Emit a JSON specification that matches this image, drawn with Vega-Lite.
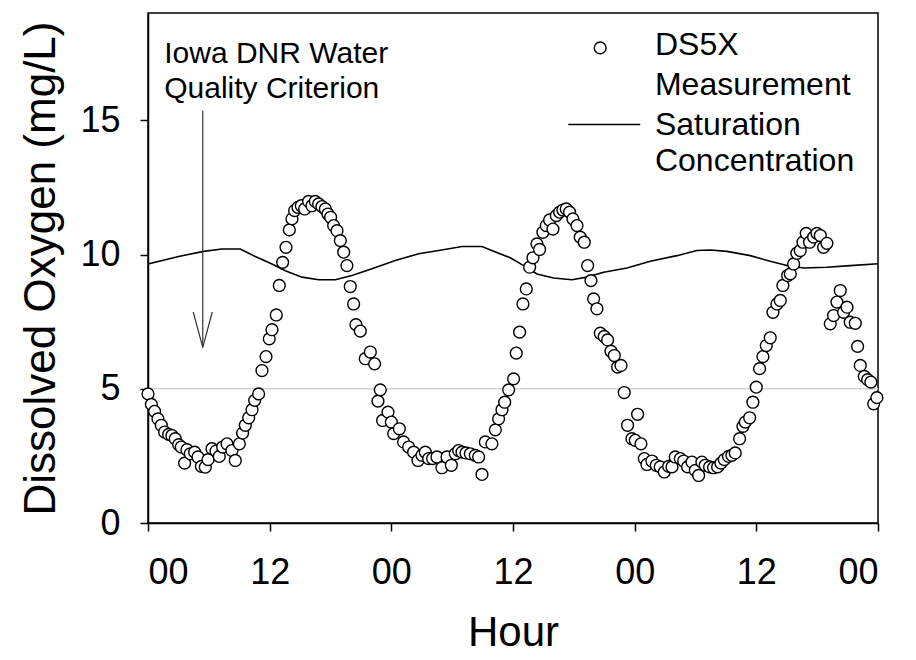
{
  "$schema": "https://vega.github.io/schema/vega-lite/v6.json",
  "width": 730,
  "height": 510,
  "autosize": {"type": "none"},
  "padding": {"left": 148, "top": 13, "right": 38, "bottom": 137},
  "background": "white",
  "config": {
    "font": "Liberation Sans",
    "view": {"stroke": "black", "strokeWidth": 1.5},
    "axis": {
      "domainColor": "black", "tickColor": "black", "labelColor": "black", "titleColor": "black",
      "grid": false, "labelFont": "Liberation Sans", "titleFont": "Liberation Sans",
      "labelFontSize": 36, "titleFontSize": 42, "titleFontWeight": "normal",
      "tickSize": 8, "domainWidth": 1.5, "tickWidth": 1.5
    }
  },
  "datasets": {
    "do": [
      {"hour":0.0,"value":4.81},{"hour":0.33,"value":4.42},{"hour":0.65,"value":4.16},{"hour":0.98,"value":3.88},{"hour":1.31,"value":3.64},{"hour":1.64,"value":3.39},{"hour":2.04,"value":3.30},{"hour":2.36,"value":3.26},{"hour":2.69,"value":3.14},{"hour":3.02,"value":2.92},{"hour":3.28,"value":2.83},{"hour":3.61,"value":2.23},{"hour":3.84,"value":2.73},{"hour":4.17,"value":2.58},{"hour":4.60,"value":2.64},{"hour":4.93,"value":2.46},{"hour":5.26,"value":2.11},{"hour":5.65,"value":2.08},{"hour":5.92,"value":2.36},{"hour":6.31,"value":2.77},{"hour":6.71,"value":2.68},{"hour":7.03,"value":2.48},{"hour":7.36,"value":2.83},{"hour":7.79,"value":2.95},{"hour":8.28,"value":2.70},{"hour":8.61,"value":2.33},{"hour":9.01,"value":2.95},{"hour":9.33,"value":3.35},{"hour":9.60,"value":3.64},{"hour":9.93,"value":3.92},{"hour":10.26,"value":4.22},{"hour":10.52,"value":4.57},{"hour":10.91,"value":4.81},{"hour":11.24,"value":5.68},{"hour":11.64,"value":6.20},{"hour":11.96,"value":6.86},{"hour":12.23,"value":7.20},{"hour":12.65,"value":7.75},{"hour":12.95,"value":8.85},{"hour":13.28,"value":9.71},{"hour":13.61,"value":10.27},{"hour":13.94,"value":10.92},{"hour":14.20,"value":11.33},{"hour":14.46,"value":11.64},{"hour":14.79,"value":11.76},{"hour":15.12,"value":11.82},{"hour":15.45,"value":11.70},{"hour":15.84,"value":11.98},{"hour":16.17,"value":11.82},{"hour":16.50,"value":11.98},{"hour":16.83,"value":11.89},{"hour":17.16,"value":11.79},{"hour":17.49,"value":11.70},{"hour":17.75,"value":11.51},{"hour":18.01,"value":11.39},{"hour":18.31,"value":11.08},{"hour":18.64,"value":10.89},{"hour":18.97,"value":10.52},{"hour":19.30,"value":10.09},{"hour":19.62,"value":9.59},{"hour":19.95,"value":8.81},{"hour":20.28,"value":8.16},{"hour":20.51,"value":7.39},{"hour":20.94,"value":7.15},{"hour":21.43,"value":6.12},{"hour":21.93,"value":6.37},{"hour":22.35,"value":5.93},{"hour":22.68,"value":4.54},{"hour":22.91,"value":4.96},{"hour":23.14,"value":3.82},{"hour":23.67,"value":4.13},{"hour":24.00,"value":3.76},{"hour":24.23,"value":3.33},{"hour":24.79,"value":3.51},{"hour":25.21,"value":3.02},{"hour":25.71,"value":2.83},{"hour":26.20,"value":2.64},{"hour":26.63,"value":2.33},{"hour":27.02,"value":2.52},{"hour":27.35,"value":2.64},{"hour":27.68,"value":2.40},{"hour":28.07,"value":2.40},{"hour":28.50,"value":2.46},{"hour":28.99,"value":2.06},{"hour":29.49,"value":2.46},{"hour":29.92,"value":2.15},{"hour":30.31,"value":2.58},{"hour":30.64,"value":2.70},{"hour":30.97,"value":2.64},{"hour":31.36,"value":2.61},{"hour":31.79,"value":2.58},{"hour":32.28,"value":2.52},{"hour":32.61,"value":2.46},{"hour":32.94,"value":1.81},{"hour":33.27,"value":3.02},{"hour":33.92,"value":2.95},{"hour":34.26,"value":3.47},{"hour":34.58,"value":3.88},{"hour":34.91,"value":4.22},{"hour":35.18,"value":4.50},{"hour":35.57,"value":4.96},{"hour":36.06,"value":5.37},{"hour":36.32,"value":6.33},{"hour":36.65,"value":7.11},{"hour":36.98,"value":8.16},{"hour":37.31,"value":8.72},{"hour":37.64,"value":9.53},{"hour":37.97,"value":9.88},{"hour":38.36,"value":10.40},{"hour":38.62,"value":10.19},{"hour":38.95,"value":10.83},{"hour":39.28,"value":11.08},{"hour":39.61,"value":11.29},{"hour":39.94,"value":10.95},{"hour":40.27,"value":11.45},{"hour":40.60,"value":11.58},{"hour":40.92,"value":11.66},{"hour":41.25,"value":11.70},{"hour":41.58,"value":11.58},{"hour":41.91,"value":11.33},{"hour":42.31,"value":11.08},{"hour":42.63,"value":10.65},{"hour":43.03,"value":10.46},{"hour":43.36,"value":9.59},{"hour":43.69,"value":9.03},{"hour":43.95,"value":8.35},{"hour":44.28,"value":7.98},{"hour":44.61,"value":7.07},{"hour":45.00,"value":6.95},{"hour":45.33,"value":6.82},{"hour":45.66,"value":6.40},{"hour":45.99,"value":6.24},{"hour":46.32,"value":5.81},{"hour":46.65,"value":5.87},{"hour":46.97,"value":4.86},{"hour":47.30,"value":3.64},{"hour":47.73,"value":3.14},{"hour":48.06,"value":3.08},{"hour":48.29,"value":4.05},{"hour":48.62,"value":2.95},{"hour":48.95,"value":2.40},{"hour":49.21,"value":2.18},{"hour":49.70,"value":2.31},{"hour":50.13,"value":2.15},{"hour":50.52,"value":2.09},{"hour":50.92,"value":1.90},{"hour":51.35,"value":2.11},{"hour":51.68,"value":2.09},{"hour":52.00,"value":2.46},{"hour":52.50,"value":2.40},{"hour":52.83,"value":2.31},{"hour":53.22,"value":2.09},{"hour":53.65,"value":2.27},{"hour":53.98,"value":1.96},{"hour":54.31,"value":1.77},{"hour":54.63,"value":2.27},{"hour":54.96,"value":2.15},{"hour":55.39,"value":2.09},{"hour":55.78,"value":2.06},{"hour":56.18,"value":2.09},{"hour":56.51,"value":2.23},{"hour":56.84,"value":2.36},{"hour":57.26,"value":2.48},{"hour":57.59,"value":2.52},{"hour":57.92,"value":2.61},{"hour":58.35,"value":3.14},{"hour":58.68,"value":3.60},{"hour":58.91,"value":3.76},{"hour":59.34,"value":3.92},{"hour":59.66,"value":4.50},{"hour":59.99,"value":5.06},{"hour":60.32,"value":5.75},{"hour":60.65,"value":6.20},{"hour":60.98,"value":6.61},{"hour":61.37,"value":6.90},{"hour":61.64,"value":7.85},{"hour":62.03,"value":8.16},{"hour":62.36,"value":8.29},{"hour":62.62,"value":8.85},{"hour":63.09,"value":9.22},{"hour":63.35,"value":9.28},{"hour":63.68,"value":9.65},{"hour":64.00,"value":10.05},{"hour":64.33,"value":10.15},{"hour":64.60,"value":10.46},{"hour":64.92,"value":10.79},{"hour":65.25,"value":10.46},{"hour":65.65,"value":10.65},{"hour":65.98,"value":10.79},{"hour":66.31,"value":10.71},{"hour":66.63,"value":10.27},{"hour":66.96,"value":10.42},{"hour":67.29,"value":7.42},{"hour":67.62,"value":7.73},{"hour":67.95,"value":8.23},{"hour":68.28,"value":8.66},{"hour":68.61,"value":7.85},{"hour":68.94,"value":8.04},{"hour":69.26,"value":7.48},{"hour":69.76,"value":7.44},{"hour":69.99,"value":6.58},{"hour":70.25,"value":5.87},{"hour":70.65,"value":5.46},{"hour":70.98,"value":5.34},{"hour":71.30,"value":5.25},{"hour":71.57,"value":4.44},{"hour":71.89,"value":4.67}
    ],
    "sat": [
      {"hour":0,"value":9.65},{"hour":3.02,"value":9.93},{"hour":5.49,"value":10.12},{"hour":7.30,"value":10.21},{"hour":9.10,"value":10.21},{"hour":10.58,"value":9.93},{"hour":12.23,"value":9.65},{"hour":13.54,"value":9.40},{"hour":15.19,"value":9.16},{"hour":16.83,"value":9.06},{"hour":18.47,"value":9.06},{"hour":20.12,"value":9.22},{"hour":22.09,"value":9.47},{"hour":24.39,"value":9.78},{"hour":26.69,"value":10.03},{"hour":28.67,"value":10.15},{"hour":30.97,"value":10.30},{"hour":32.94,"value":10.30},{"hour":34.58,"value":10.05},{"hour":35.73,"value":9.88},{"hour":37.05,"value":9.59},{"hour":38.36,"value":9.28},{"hour":40.00,"value":9.13},{"hour":41.81,"value":9.06},{"hour":43.29,"value":9.16},{"hour":44.94,"value":9.34},{"hour":47.24,"value":9.50},{"hour":49.54,"value":9.75},{"hour":52.17,"value":9.96},{"hour":54.14,"value":10.15},{"hour":55.46,"value":10.17},{"hour":57.10,"value":10.12},{"hour":59.40,"value":9.96},{"hour":61.37,"value":9.75},{"hour":63.02,"value":9.59},{"hour":64.66,"value":9.50},{"hour":66.96,"value":9.53},{"hour":69.26,"value":9.59},{"hour":72,"value":9.66}
    ],
    "arrow": [
      {"hour":5.4,"value":15.36,"hour2":5.4,"value2":6.54},
      {"hour":4.46,"value":7.86,"hour2":5.4,"value2":6.54},
      {"hour":6.34,"value":7.86,"hour2":5.4,"value2":6.54}
    ],
    "labels": [
      {"hour":1.6,"value":17.15,"label":"Iowa DNR Water","size":30},
      {"hour":1.6,"value":15.84,"label":"Quality Criterion","size":30},
      {"hour":50.0,"value":17.45,"label":"DS5X","size":32},
      {"hour":50.0,"value":15.95,"label":"Measurement","size":32},
      {"hour":50.0,"value":14.45,"label":"Saturation","size":32},
      {"hour":50.0,"value":13.1,"label":"Concentration","size":32}
    ],
    "legline": [{"hour":41.45,"value":14.85,"hour2":48.55}],
    "legpoint": [{"hour":44.6,"value":17.7}]
  },
  "encoding": {
    "x": {"field": "hour", "type": "quantitative",
      "scale": {"domain": [0, 72], "nice": false},
      "axis": {"title": "Hour", "values": [0, 12, 24, 36, 48, 60, 72],
        "labelExpr": "datum.value % 24 == 0 ? '00' : '12'",
        "labelPadding": 24, "titlePadding": 22}},
    "y": {"field": "value", "type": "quantitative",
      "scale": {"domain": [0, 19], "nice": false},
      "axis": {"title": "Dissolved Oxygen (mg/L)", "values": [0, 5, 10, 15],
        "labelPadding": 20, "titlePadding": 16, "titleFontSize": 44}}
  },
  "layer": [
    {"data": {"values": [{"v": 5}]}, "mark": {"type": "rule", "color": "#d4d4d4", "strokeWidth": 1.5},
     "encoding": {"x": {"value": 0}, "x2": {"value": 730}, "y": {"field": "v", "type": "quantitative"}}},
    {"data": {"name": "sat"}, "mark": {"type": "line", "color": "black", "strokeWidth": 1.6}},
    {"data": {"name": "arrow"}, "mark": {"type": "rule", "color": "#333333", "strokeWidth": 1.2},
     "encoding": {"x2": {"field": "hour2"}, "y2": {"field": "value2"}}},
    {"data": {"name": "do"}, "mark": {"type": "point", "shape": "circle", "filled": true, "fill": "white", "stroke": "black", "strokeWidth": 1.4, "size": 140, "opacity": 1}},
    {"data": {"name": "legline"}, "mark": {"type": "rule", "color": "black", "strokeWidth": 1.5},
     "encoding": {"x2": {"field": "hour2"}}},
    {"data": {"name": "legpoint"}, "mark": {"type": "point", "shape": "circle", "filled": true, "fill": "white", "stroke": "black", "strokeWidth": 1.4, "size": 140, "opacity": 1}},
    {"data": {"name": "labels"}, "mark": {"type": "text", "align": "left", "baseline": "alphabetic", "font": "Liberation Sans", "color": "black"},
     "encoding": {"text": {"field": "label"}, "size": {"field": "size", "type": "quantitative", "scale": null}}}
  ]
}
